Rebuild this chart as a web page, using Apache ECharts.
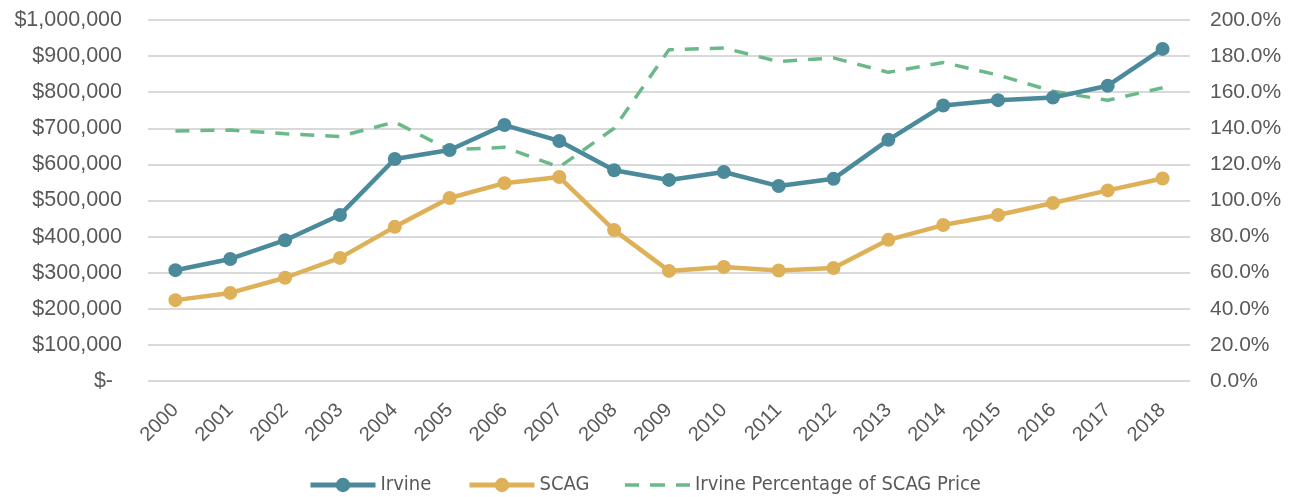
<!DOCTYPE html>
<html>
<head>
<meta charset="utf-8">
<script src="https://cdn.jsdelivr.net/npm/echarts@6/dist/echarts.min.js"></script>
<style>
  html, body { margin: 0; padding: 0; background: #fff; }
  #main { width: 1294px; height: 497px; }
</style>
</head>
<body>
<div id="main"></div>
<script>
// 年份
const years = ['2000', '2001', '2002', '2003', '2004', '2005', '2006', '2007', '2008', '2009',
  '2010', '2011', '2012', '2013', '2014', '2015', '2016', '2017', '2018']
// 房价
const irvine = [307000, 338000, 390000, 460000, 615000, 640000, 709000, 665000, 584000, 557000,
  579000, 540000, 560000, 668000, 763000, 778000, 785000, 818000, 920000]
const scag = [224000, 244000, 286000, 341000, 427000, 507000, 548000, 565000, 418000, 305000,
  316000, 306000, 313000, 391000, 432000, 460000, 493000, 528000, 561000]
// 百分比
const pct = [138.5, 139, 137, 135.5, 143.5, 128, 129.5, 118.5, 140, 183.5,
  184.5, 177, 179, 171, 176.5, 169.5, 160.5, 155.5, 162.5]

const textColor = '#595959'
const font = 'Liberation Sans'
const legendText = { color: textColor, fontSize: 20, fontFamily: 'DejaVu Sans Condensed' }

// 图例：每项单独定位
function legendItem (left, item, h) {
  return {
    top: 475,
    left: left,
    padding: 0,
    itemWidth: 65,
    itemHeight: h,
    textStyle: legendText,
    data: [item]
  }
}

let myChart = echarts.init(document.getElementById('main'))

myChart.setOption({
  animation: false,
  grid: {
    left: 148,
    right: 104,
    top: 20,
    bottom: 116,
    containLabel: false
  },
  legend: [
    legendItem(308, { name: 'Irvine', lineStyle: { width: 5 } }, 18),
    legendItem(467, { name: 'SCAG', lineStyle: { width: 5 } }, 18),
    legendItem(625, {
      name: 'Irvine Percentage of SCAG Price',
      icon: 'path://M0,0h14v3.5h-14z M25,0h15v3.5h-15z M51,0h14v3.5h-14z'
    }, 3.5)
  ],
  xAxis: {
    type: 'category',
    data: years,
    boundaryGap: true,
    axisLine: { show: false },
    axisTick: { show: false },
    axisLabel: {
      interval: 0,
      rotate: 45,
      color: textColor,
      fontSize: 20,
      fontFamily: font,
      margin: 26
    }
  },
  yAxis: [{
    type: 'value',
    min: 0,
    max: 1000000,
    interval: 100000,
    axisLine: { show: false },
    axisTick: { show: false },
    splitLine: { lineStyle: { color: '#d9d9d9', width: 2 } },
    axisLabel: {
      color: textColor,
      fontSize: 21.5,
      fontFamily: font,
      margin: 26,
      formatter: function (v) {
        if (v === 0) return '{z|$-}'
        return '$' + v.toLocaleString('en-US')
      },
      rich: {
        z: { color: textColor, fontSize: 21.5, fontFamily: font, padding: [0, 9, 0, 0] }
      }
    }
  }, {
    type: 'value',
    min: 0,
    max: 200,
    interval: 20,
    position: 'right',
    axisLine: { show: false },
    axisTick: { show: false },
    splitLine: { show: false },
    axisLabel: {
      color: textColor,
      fontSize: 21,
      fontFamily: font,
      margin: 20,
      formatter: function (v) { return v.toFixed(1) + '%' }
    }
  }],
  series: [{
    name: 'Irvine',
    type: 'line',
    data: irvine,
    yAxisIndex: 0,
    symbol: 'circle',
    symbolSize: 14,
    lineStyle: { color: '#4a8a9a', width: 4.5 },
    itemStyle: { color: '#4a8a9a' },
    z: 3
  }, {
    name: 'SCAG',
    type: 'line',
    data: scag,
    yAxisIndex: 0,
    symbol: 'circle',
    symbolSize: 14,
    lineStyle: { color: '#deb058', width: 4.5 },
    itemStyle: { color: '#deb058' },
    z: 2
  }, {
    name: 'Irvine Percentage of SCAG Price',
    type: 'line',
    data: pct,
    yAxisIndex: 1,
    symbol: 'none',
    lineStyle: { color: '#6bb88a', width: 3.5, type: [14, 11] },
    itemStyle: { color: '#6bb88a' },
    z: 1
  }]
})
</script>
</body>
</html>
